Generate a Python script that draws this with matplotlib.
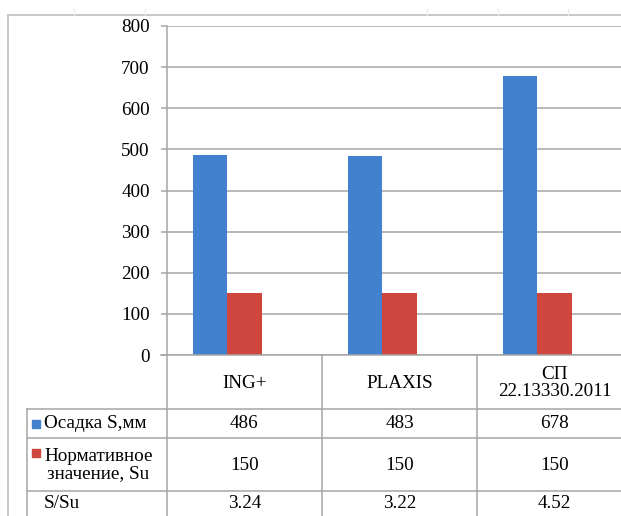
import matplotlib
matplotlib.use("Agg")
import matplotlib.pyplot as plt
import matplotlib.transforms as mtransforms
from matplotlib.lines import Line2D
from matplotlib.patches import Rectangle

plt.rcParams['font.family'] = 'serif'
plt.rcParams['font.serif'] = ['Liberation Serif', 'Times New Roman', 'DejaVu Serif']

categories = ["ING+", "PLAXIS", "СП\n22.13330.2011"]
series_names = ["Осадка S,мм", "Нормативное\nзначение, Su"]
settlement = [486, 483, 678]
normative = [150, 150, 150]
ratio_label = "S/Su"
ratio = ["3.24", "3.22", "4.52"]
yticks = [0, 100, 200, 300, 400, 500, 600, 700, 800]

BLUE = "#4181CE"
RED = "#CF463F"
GRID = "#a6a6a6"
FRAME = "#c4c4c4"
FS = 13.8

W, H = 621, 516
fig = plt.figure(figsize=(W / 100, H / 100), dpi=100)

def fx(x):
    return x / W

def fy(y):
    return 1 - y / H

# plot area (pixels): left 167, right 632, top 26, bottom 355
ax = fig.add_axes([fx(167), fy(355), (632 - 167) / W, (355 - 26) / H])
xs = list(range(len(categories)))
bw = 0.222
ax.bar([x - 0.11 - bw / 2 for x in xs], settlement, width=bw, color=BLUE, zorder=3)
ax.bar([x - 0.11 + bw / 2 for x in xs], normative, width=bw, color=RED, zorder=3)
ax.set_xlim(-0.5, len(categories) - 0.5)
ax.set_ylim(0, 800)
ax.set_yticks(yticks)
ax.set_yticklabels([str(v) for v in yticks], fontsize=FS)
ax.set_xticks([])
ax.yaxis.grid(True, color=GRID, linewidth=1.1, zorder=0)
for s in ["top", "right", "bottom"]:
    ax.spines[s].set_visible(False)
ax.spines["left"].set_color(GRID)
ax.spines["left"].set_linewidth(1.1)
ax.tick_params(axis="y", length=4.5, width=1.1, color=GRID, pad=8)
ax.set_facecolor("none")

# table
blend = mtransforms.blended_transform_factory(ax.transData, fig.transFigure)
row_lines = [409, 438, 491]
lw = 1.1

for b in [i - 0.5 for i in range(len(categories) + 1)]:
    fig.add_artist(Line2D([b, b], [fy(355), fy(H + 5)], transform=blend,
                          color=GRID, lw=lw, clip_on=False))
for y in row_lines:
    fig.add_artist(Line2D([fx(27), fx(W + 20)], [fy(y), fy(y)],
                          transform=fig.transFigure, color=GRID, lw=lw))
fig.add_artist(Line2D([fx(161), fx(W + 20)], [fy(355), fy(355)],
                      transform=fig.transFigure, color=GRID, lw=lw))
fig.add_artist(Line2D([fx(27), fx(27)], [fy(409), fy(H + 5)],
                      transform=fig.transFigure, color=GRID, lw=lw))

for i, c in enumerate(categories):
    fig.text(i, fy(383), c, transform=blend, fontsize=FS, ha="center",
             va="center", multialignment="center", linespacing=1.0)

row_centers = [424, 465, 504]
for i, v in enumerate(settlement):
    fig.text(i, fy(row_centers[0]), str(v), transform=blend, fontsize=FS,
             ha="center", va="center")
for i, v in enumerate(normative):
    fig.text(i, fy(row_centers[1]), str(v), transform=blend, fontsize=FS,
             ha="center", va="center")
for i, v in enumerate(ratio):
    fig.text(i, fy(row_centers[2]), v, transform=blend, fontsize=FS,
             ha="center", va="center")

for name, col, yc, ky in [(series_names[0], BLUE, row_centers[0], 424),
                          (series_names[1], RED, row_centers[1], 453)]:
    fig.add_artist(Rectangle((fx(32), fy(ky + 4)), fx(8), 8 / H,
                             transform=fig.transFigure, color=col))
    fig.text(fx(44), fy(yc), name, fontsize=FS, ha="left", va="center",
             multialignment="center", linespacing=1.0)
fig.text(fx(44), fy(row_centers[2]), ratio_label, fontsize=FS, ha="left", va="center")

# outer chart frame
fig.add_artist(Line2D([fx(8), fx(8)], [fy(15), fy(H + 5)],
                      transform=fig.transFigure, color=FRAME, lw=1.3))
fig.add_artist(Line2D([fx(8), fx(W + 5)], [fy(15), fy(15)],
                      transform=fig.transFigure, color=FRAME, lw=1.3))
for x in [74, 145, 427, 498, 568]:
    fig.add_artist(Line2D([fx(x), fx(x)], [fy(9), fy(15)],
                          transform=fig.transFigure, color="#ececec", lw=1))

fig.savefig("out.png", dpi=100)
